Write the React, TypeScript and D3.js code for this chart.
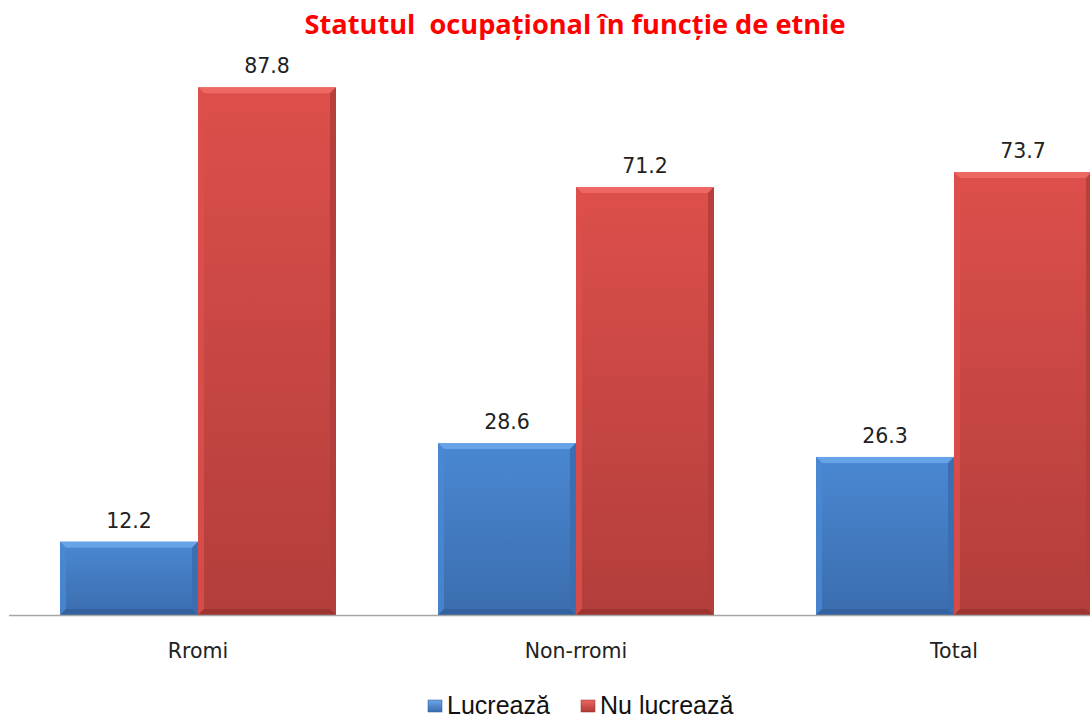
import React from 'react';
import * as d3 from 'd3';

// values
const categories = ['Rromi', 'Non-rromi', 'Total'];
const seriesNames = ['Lucrează', 'Nu lucrează'];
const lucreaza = [12.2, 28.6, 26.3];
const nuLucreaza = [87.8, 71.2, 73.7];
const title = 'Statutul  ocupațional în funcție de etnie';

const width = 1090;
const height = 718;
const baseline = 615;
const plotTop = 14;
const bandStep = 378;
const left = 9;

const palettes = [
  { light: '#6aa6e8', mid: '#4a88d3', dark: '#3b6dae', edge: '#2f5a94' },
  { light: '#ef6a66', mid: '#dd4f4b', dark: '#b23e3b', edge: '#8f2e2c' },
];

const Bar = ({ x, y, w, h, idx }: { x: number; y: number; w: number; h: number; idx: number }) => {
  const p = palettes[idx];
  const b = Math.min(6, h / 2);
  const gid = `g${idx}`;
  return (
    <g>
      <rect x={x} y={y} width={w} height={h} fill={`url(#${gid})`} />
      {/* top bevel */}
      <polygon points={`${x},${y} ${x + w},${y} ${x + w - b},${y + b} ${x + b},${y + b}`} fill={p.light} opacity={0.9} />
      {/* left bevel */}
      <polygon points={`${x},${y} ${x + b},${y + b} ${x + b},${y + h - b} ${x},${y + h}`} fill={p.mid} opacity={0.8} />
      {/* right bevel */}
      <polygon points={`${x + w},${y} ${x + w - b},${y + b} ${x + w - b},${y + h - b} ${x + w},${y + h}`} fill={p.dark} opacity={0.9} />
      {/* bottom bevel */}
      <polygon points={`${x},${y + h} ${x + b},${y + h - b} ${x + w - b},${y + h - b} ${x + w},${y + h}`} fill={p.edge} opacity={0.6} />
    </g>
  );
};

const App = () => {
  const x0 = d3.scaleBand().domain(categories).range([left, left + bandStep * categories.length]);
  const x1 = d3.scaleBand().domain(seriesNames).range([51, 327]);
  const y = d3.scaleLinear().domain([0, 100]).range([baseline, plotTop]);
  const values = [lucreaza, nuLucreaza];

  return (
    <svg width={width} height={height} style={{ position: 'absolute', left: 0, top: 0, background: '#fff' }}>
      <defs>
        {palettes.map((p, i) => (
          <linearGradient key={i} id={`g${i}`} x1="0" y1="0" x2="0" y2="1">
            <stop offset="0%" stopColor={p.mid} />
            <stop offset="100%" stopColor={p.dark} />
          </linearGradient>
        ))}
        <linearGradient id="lg0" x1="0" y1="0" x2="0" y2="1">
          <stop offset="0%" stopColor="#6aa6e8" />
          <stop offset="100%" stopColor="#3a6cae" />
        </linearGradient>
        <linearGradient id="lg1" x1="0" y1="0" x2="0" y2="1">
          <stop offset="0%" stopColor="#ee6460" />
          <stop offset="100%" stopColor="#b03b38" />
        </linearGradient>
      </defs>

      <text x={575} y={34} textAnchor="middle" fill="#ff0000" fontFamily="'Open Sans', sans-serif"
        fontWeight="bold" fontSize={27.2} style={{ whiteSpace: 'pre' }}>
        {title}
      </text>

      {categories.map((c, ci) => (
        <g key={c}>
          {values.map((vals, si) => {
            const bx = (x0(c) as number) + (x1(seriesNames[si]) as number);
            const by = y(vals[ci]);
            const bw = x1.bandwidth();
            return (
              <g key={si}>
                <Bar x={bx} y={by} w={bw} h={baseline - by} idx={si} />
                <text x={bx + bw / 2} y={by - 14} textAnchor="middle" fontFamily="'DejaVu Sans', sans-serif"
                  fontSize={20.5} fill="#222">
                  {vals[ci].toFixed(1)}
                </text>
              </g>
            );
          })}
          <text x={(x0(c) as number) + x0.bandwidth() / 2} y={658} textAnchor="middle"
            fontFamily="'DejaVu Sans', sans-serif" fontSize={20.5} fill="#222">
            {c}
          </text>
        </g>
      ))}

      <line x1={left} x2={width} y1={baseline + 0.5} y2={baseline + 0.5} stroke="#a6a6a6" strokeWidth={1.5} />

      {seriesNames.map((s, i) => {
        const lx = i === 0 ? 428 : 581;
        return (
          <g key={s}>
            <rect x={lx} y={700} width={14} height={12} fill={`url(#lg${i})`} stroke={palettes[i].edge} strokeWidth={0.5} />
            <text x={lx + 19} y={714} fontFamily="'Liberation Sans', Arial, sans-serif" fontSize={25} fill="#111">
              {s}
            </text>
          </g>
        );
      })}
    </svg>
  );
};

export default App;
